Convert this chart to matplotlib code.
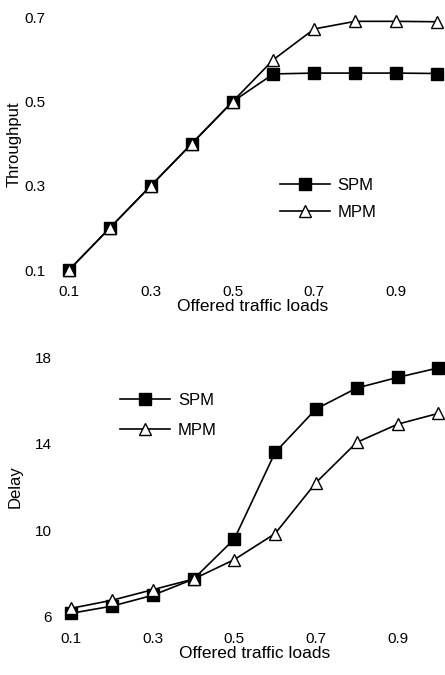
import numpy as np
import matplotlib.pyplot as plt

loads = [0.1, 0.2, 0.3, 0.4, 0.5, 0.6, 0.7, 0.8, 0.9, 1.0]

thr_spm = [0.1, 0.2, 0.3, 0.4, 0.5, 0.566, 0.568, 0.568, 0.568, 0.567]
thr_mpm = [0.1, 0.2, 0.3, 0.4, 0.5, 0.6, 0.673, 0.691, 0.691, 0.69]

delay_spm = [6.17, 6.5, 7.0, 7.75, 9.6, 13.6, 15.6, 16.57, 17.06, 17.5]
delay_mpm = [6.4, 6.77, 7.26, 7.75, 8.65, 9.85, 12.2, 14.06, 14.9, 15.4]

xticks = [0.1, 0.3, 0.5, 0.7, 0.9]
thr_ticks = [0.1, 0.3, 0.5, 0.7]
delay_ticks = [6, 10, 14, 18]

plt.rcParams['font.family'] = ['Liberation Sans', 'DejaVu Sans']
plt.rcParams['font.size'] = 11

fig = plt.figure(figsize=(4.45, 6.75), dpi=100)
ax1 = fig.add_axes([0.155, 0.6, 0.827, 0.374])
ax2 = fig.add_axes([0.16, 0.086, 0.825, 0.385])


def style(ax, yticks, ylabel, ylim, ypad, ylpad):
    for s in ax.spines.values():
        s.set_visible(False)
    ax.set_xlim(0.1, 1.0)
    ax.set_ylim(*ylim)
    ax.set_xticks(xticks)
    ax.set_xticklabels(['%.1f' % t for t in xticks])
    ax.set_yticks(yticks)
    ax.tick_params(length=0, pad=ypad, labelsize=11)
    ax.tick_params(axis='x', pad=11)
    ax.set_xlabel('Offered traffic loads', fontsize=12.5, labelpad=0)
    ax.set_ylabel(ylabel, fontsize=12, labelpad=ylpad)


ax1.plot(loads, thr_spm, '-s', color='black', lw=1.2, ms=8,
         mfc='black', clip_on=False, label='SPM')
ax1.plot(loads, thr_mpm, '-^', color='black', lw=1.2, ms=8,
         mfc='white', clip_on=False, label='MPM')
style(ax1, thr_ticks, 'Throughput', (0.1, 0.7), 17, 2)
ax1.set_yticklabels(['%.1f' % t for t in thr_ticks])
ax1.legend(loc='center left', bbox_to_anchor=(0.573, 0.281), frameon=False,
           fontsize=12, handlelength=3.0, handletextpad=0.45,
           labelspacing=0.75, borderpad=0, borderaxespad=0)

ax2.plot(loads, delay_spm, '-s', color='black', lw=1.2, ms=8,
         mfc='black', clip_on=False, label='SPM')
ax2.plot(loads, delay_mpm, '-^', color='black', lw=1.2, ms=8,
         mfc='white', clip_on=False, label='MPM')
style(ax2, delay_ticks, 'Delay', (6, 18), 14, 9)
ax2.legend(loc='center left', bbox_to_anchor=(0.134, 0.777), frameon=False,
           fontsize=12, handlelength=3.0, handletextpad=0.45,
           labelspacing=0.9, borderpad=0, borderaxespad=0)

fig.savefig('out.png', dpi=100)
